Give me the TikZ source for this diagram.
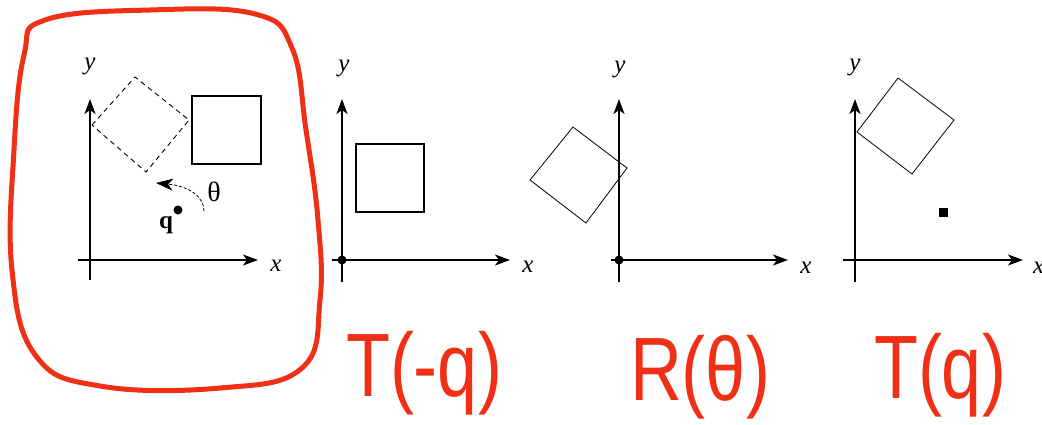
\documentclass[tikz,border=0pt]{standalone}
\usepackage{fontspec}
\setmainfont{Liberation Serif}
\newfontfamily\handfont{Liberation Sans}
\usetikzlibrary{arrows.meta}
\definecolor{penred}{RGB}{240,48,22}
\tikzset{
  axis/.style={line width=1.5pt,-{Stealth[length=15pt,width=11pt,inset=4pt]}},
  boxsolid/.style={line width=1.2pt},
  boxthin/.style={line width=0.8pt},
  boxdash/.style={line width=0.9pt,dash pattern=on 5pt off 4pt},
  axlabel/.style={font=\fontsize{25}{25}\selectfont\itshape,inner sep=0pt},
  origindot/.style={circle,fill=black,inner sep=0pt,minimum size=9pt},
  hand/.style={text=penred,inner sep=0pt,anchor=base,font=\handfont\fontsize{90}{90}\selectfont},
  loop/.style={draw=penred,line width=5pt,line cap=round,line join=round}
}
\begin{document}
\begin{tikzpicture}[x=1pt,y=-1pt]
\useasboundingbox (0,0) rectangle (1042,424);
% ---------- red loop
\draw[loop] plot[smooth cycle,tension=0.7] coordinates {
 (45,20) (150,10) (255,14) (292,48) (306,130) (318,220) (320,300) (302,368)
 (220,388) (100,386) (36,356) (12,270) (14,150) (24,55)};
% ---------- panel 1
\coordinate (xa1) at (78,260); \coordinate (xb1) at (258,260);
\coordinate (ya1) at (90,280); \coordinate (yb1) at (90,99);
\draw[axis] (xa1) -- (xb1);
\draw[axis] (ya1) -- (yb1);
\node[axlabel] (ylab1) at (90,66) {y};
\node[axlabel] (xlab1) at (276,266) {x};
\draw[boxsolid] (192,96) rectangle (261,164);
\draw[boxdash] (92,125) -- (135,77) -- (189,120) -- (146,172) -- cycle;
\node[origindot] (q) at (178,210) {};
\node[inner sep=0pt,font=\fontsize{25}{25}\selectfont\bfseries] (qlab) at (166,225) {q};
\node[inner sep=0pt,font=\fontsize{28}{28}\selectfont] (theta) at (214,192) {θ};
\coordinate (arcs) at (204,211);
\coordinate (arce) at (156,183);
\draw[line width=0.8pt,densely dashed,-{Stealth[length=17pt,width=12pt,inset=5pt]}]
  (arcs) .. controls (204,196) and (188,186) .. (arce);
% ---------- panel 2
\coordinate (xa2) at (332,260); \coordinate (xb2) at (510,260);
\coordinate (ya2) at (342,282); \coordinate (yb2) at (342,99);
\draw[axis] (xa2) -- (xb2);
\draw[axis] (ya2) -- (yb2);
\node[origindot] (o2) at (342,260) {};
\node[axlabel] (ylab2) at (344,68) {y};
\node[axlabel] (xlab2) at (528,267) {x};
\draw[boxsolid] (356,144) rectangle (424,212);
% ---------- panel 3
\coordinate (xa3) at (611,260); \coordinate (xb3) at (788,260);
\coordinate (ya3) at (619,282); \coordinate (yb3) at (619,99);
\draw[axis] (xa3) -- (xb3);
\draw[axis] (ya3) -- (yb3);
\node[origindot] (o3) at (619,260) {};
\node[axlabel] (ylab3) at (620,69) {y};
\node[axlabel] (xlab3) at (806,268) {x};
\draw[boxthin] (573,127) -- (627,168) -- (586,223) -- (530,180) -- cycle;
% ---------- panel 4
\coordinate (xa4) at (843,260); \coordinate (xb4) at (1023,260);
\coordinate (ya4) at (855,282); \coordinate (yb4) at (855,99);
\draw[axis] (xa4) -- (xb4);
\draw[axis] (ya4) -- (yb4);
\node[axlabel] (ylab4) at (855,67) {y};
\node[axlabel,anchor=west] (xlab4) at (1033,268) {x};
\draw[boxthin] (898,78) -- (954,120) -- (912,174) -- (857,132) -- cycle;
\node[fill=black,inner sep=0pt,minimum size=9pt] (qp) at (943,212) {};
% ---------- handwritten labels
\node[hand] (tneg) at (424,396) {\scalebox{0.8}[1]{T(-q)}};
\node[hand] (rth) at (700,400) {\scalebox{0.8}[1]{R(θ)}};
\node[hand] (tpos) at (940,398) {\scalebox{0.8}[1]{T(q)}};
\end{tikzpicture}
\end{document}
